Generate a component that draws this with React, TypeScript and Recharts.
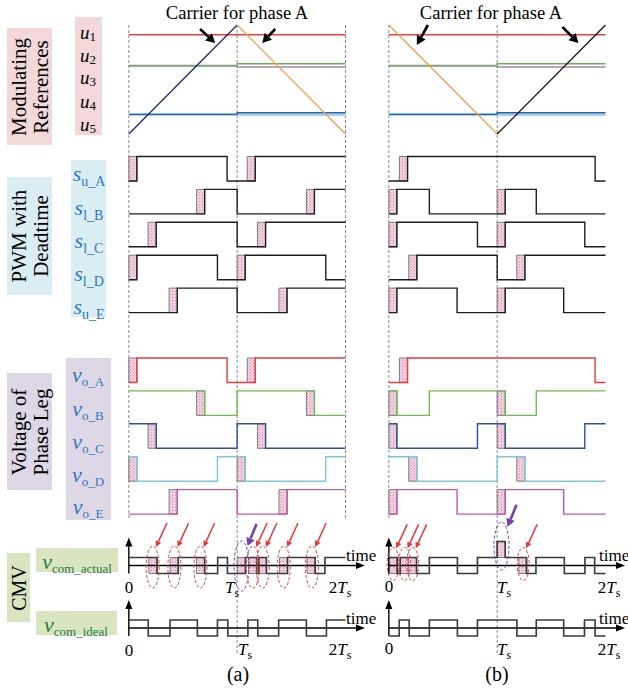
import React from "react";
import { LineChart, Line, XAxis, YAxis, ReferenceArea, ReferenceDot } from "recharts";

const FONT = "'Liberation Serif', 'Times New Roman', Times, serif";

// ---- data, time in units of Ts ----
const DEADTIME = 0.075;

// modulating references in carrier units: [first Ts, second Ts]
const refA = [[0.82, 0.82], [0.245, 0.29], [0.26, 0.23], [-0.64, -0.61], [-0.645, -0.645]];
const refB = [[0.82, 0.82], [0.245, 0.29], [0.26, 0.23], [-0.64, -0.61], [-0.645, -0.645]];

// carrier for phase A: [t, value]
const carrierA = [[0, -1], [1, 1], [2, -1]];
const carrierB = [[0, 1], [1, -1], [2, 1]];

// gate signals s_u_A, s_l_B, s_l_C, s_l_D, s_u_E as [t, level]
const pwmA = [
  [[0, 0], [0.074, 1], [0.907, 0], [1.167, 1], [2, 1]],
  [[0, 0], [0.7, 1], [1.0, 0], [1.713, 1], [2, 1]],
  [[0, 0], [0.253, 1], [1.0, 0], [1.262, 1], [2, 1]],
  [[0, 0], [0.074, 1], [0.818, 0], [1.074, 1], [1.818, 0], [2, 0]],
  [[0, 0], [0.447, 1], [1.0, 0], [1.46, 1], [2, 1]],
];
const pwmB = [
  [[0, 0], [0.173, 1], [1.904, 0], [2, 0]],
  [[0, 0], [0.074, 1], [0.374, 0], [1.074, 1], [1.361, 0], [2, 0]],
  [[0, 0], [0.074, 1], [0.818, 0], [1.074, 1], [1.809, 0], [2, 0]],
  [[0, 0], [0.259, 1], [1.0, 0], [1.256, 1], [2, 1]],
  [[0, 0], [0.074, 1], [0.63, 0], [1.074, 1], [1.614, 0], [2, 0]],
];
// deadtime intervals (start times), same for gate and leg voltage rows
const deadA = [[0, 1.093], [0.626, 1.639], [0.178, 1.188], [0, 1.0], [0.372, 1.386]];
const deadB = [[0.098], [0, 1.0], [0, 1.0], [0.184, 1.181], [0, 1.0]];

// phase leg voltages v_o_A .. v_o_E
const legA = [
  [[0, 0], [0.074, 1], [0.907, 0], [1.167, 1], [2, 1]],
  [[0, 1], [0.7, 0], [1.0, 1], [1.713, 0], [2, 0]],
  [[0, 1], [0.253, 0], [1.0, 1], [1.262, 0], [2, 0]],
  [[0, 1], [0.074, 0], [0.818, 1], [1.074, 0], [1.818, 1], [2, 1]],
  [[0, 0], [0.447, 1], [1.0, 0], [1.46, 1], [2, 1]],
];
const legB = [
  [[0, 0], [0.173, 1], [1.904, 0], [2, 0]],
  [[0, 1], [0.074, 0], [0.374, 1], [1.074, 0], [1.361, 1], [2, 1]],
  [[0, 1], [0.074, 0], [0.818, 1], [1.074, 0], [1.809, 1], [2, 1]],
  [[0, 1], [0.259, 0], [1.0, 1], [1.256, 0], [2, 0]],
  [[0, 0], [0.074, 1], [0.63, 0], [1.074, 1], [1.614, 0], [2, 0]],
];

// common mode voltage, levels -1 / +1 / +3
const cmvActualA = [[0, 1], [0.26, -1], [0.456, 1], [0.7, -1], [0.82, 1], [0.91, -1], [1.077, 1], [1.18, -1], [1.2, 1], [1.27, -1], [1.465, 1], [1.72, -1], [1.81, 1], [2, 1]];
const cmvBoxA = [[0.185, -1, 1], [0.381, -1, 1], [0.625, -1, 1], [1.0, -1, 1], [1.105, -1, 1], [1.195, -1, 1], [1.39, -1, 1], [1.645, -1, 1]];
const cmvIdealA = [[0, 1], [0.179, -1], [0.38, 1], [0.633, -1], [0.818, 1], [0.914, -1], [1.099, 1], [1.19, -1], [1.383, 1], [1.639, -1], [1.824, 1], [2, 1]];
const cmvActualB = [[0, 1], [0.077, -1], [0.105, 1], [0.256, -1], [0.374, 1], [0.633, -1], [0.818, 1], [1.0, 3], [1.074, 1], [1.27, -1], [1.358, 1], [1.62, -1], [1.81, 1], [1.9, -1], [2, -1]];
const cmvBoxB = [[0, -1, 1], [0.105, -1, 1], [0.18, -1, 1], [1.0, 1, 3], [1.2, -1, 1]];
const cmvIdealB = [[0, -1], [0.096, 1], [0.188, -1], [0.374, 1], [0.633, -1], [0.818, 1], [1.182, -1], [1.361, 1], [1.614, -1], [1.806, 1], [1.904, -1], [2, -1]];

// highlighted deadtime events: [t, kind] r = red, p = purple
const ringsA: [number, string][] = [[0.22, "r"], [0.42, "r"], [0.66, "r"], [1.04, "p"], [1.145, "r"], [1.235, "r"], [1.43, "r"], [1.69, "r"]];
const ringsB: [number, string][] = [[0.04, "r"], [0.145, "r"], [0.22, "r"], [1.04, "p"], [1.24, "r"]];

// ---- layout ----
const CW = 260;
const DOM = [-0.1, 2.3];
const L = {
  carMid: 79.5, carAmp: 54.5,
  pwmTop: 156.5, legTop: 358, pitch: 32.9, rowH: 24.5,
  cmvAct: 565.5, cmvIdeal: 628, unit: 8,
};
const refColors = ["#e8413c", "#62b847", "#b47cbc", "#2f62ae", "#9ed3e8"];
const refWidths = [1.4, 1.4, 1.4, 1.4, 2.6];
const legColors = ["#e8383d", "#6cbd4c", "#2f4ea0", "#7cc8dc", "#c158ab"];

const carY = (c: number) => L.carMid - L.carAmp * c;

type Pt = { t: number; y: number };
type Series = { id: string; pts: Pt[]; color: string; width: number; step?: boolean; dash?: string };

function arrow(x: number, y: number, dx: number, dy: number, color: string, w: number, hl: number, hw: number) {
  const len = Math.hypot(dx, dy);
  const ux = dx / len, uy = dy / len;
  const bx = x + ux * hl, by = y + uy * hl;
  const px = -uy, py = ux;
  return (
    <g>
      {len > hl && <line x1={x + dx} y1={y + dy} x2={bx} y2={by} stroke={color} strokeWidth={w} />}
      <polygon points={`${x},${y} ${bx + px * hw},${by + py * hw} ${bx - px * hw},${by - py * hw}`} fill={color} />
    </g>
  );
}

type PanelData = {
  refs: number[][];
  carrier: number[][];
  riseColor: string;
  pwm: number[][][];
  leg: number[][][];
  dead: number[][];
  act: number[][];
  boxes: number[][];
  ideal: number[][];
  rings: [number, string][];
  ringY: { r: number; p: number };
  ringR: { r: number[]; p: number[] };
  guides: number[];
  carArrows: number[][];
};

function Panel({ p, left }: { p: PanelData; left: number }) {
  const lines: Series[] = [];
  const areas: { x1: number; x2: number; y1: number; y2: number }[] = [];
  const marks: { t: number; y: number; draw: (cx: number, cy: number) => React.ReactElement }[] = [];

  p.guides.forEach((g) =>
    lines.push({ id: "g" + g, pts: [{ t: g, y: 25 }, { t: g, y: g === 1 ? 655 : 520 }], color: "#8a8a8a", width: 1, dash: "3 2" })
  );

  [4, 3, 2, 1, 0].forEach((i) => {
    const [a, b] = p.refs[i];
    lines.push({ id: "u" + i, step: true, color: refColors[i], width: refWidths[i], pts: [{ t: 0, y: carY(a) }, { t: 1, y: carY(b) }, { t: 2, y: carY(b) }] });
  });

  for (let i = 0; i < p.carrier.length - 1; i++) {
    const [t0, c0] = p.carrier[i];
    const [t1, c1] = p.carrier[i + 1];
    lines.push({ id: "car" + i, color: c1 > c0 ? p.riseColor : "#f5a04c", width: 1.3, pts: [{ t: t0, y: carY(c0) }, { t: t1, y: carY(c1) }] });
  }

  const rows = (sig: number[][][], top: number, colors: string[] | null, tag: string) =>
    sig.forEach((s, i) => {
      const hi = top + L.pitch * i;
      const lo = hi + L.rowH;
      lines.push({ id: tag + i, step: true, color: colors ? colors[i] : "#1e1e1e", width: 1.4, pts: s.map(([t, l]) => ({ t, y: l ? hi : lo })) });
      p.dead[i].forEach((d) => areas.push({ x1: d, x2: d + DEADTIME, y1: hi, y2: lo }));
    });
  rows(p.pwm, L.pwmTop, null, "s");
  rows(p.leg, L.legTop, legColors, "v");

  [L.cmvAct, L.cmvIdeal].forEach((ax, k) => {
    lines.push({ id: "ax" + k, color: "#000", width: 1.4, pts: [{ t: 0, y: ax }, { t: 2.15, y: ax }] });
    lines.push({ id: "ay" + k, color: "#000", width: 1.4, pts: [{ t: 0, y: ax + 8 }, { t: 0, y: ax - 24 }] });
    marks.push({ t: 2.18, y: ax, draw: (cx, cy) => arrow(cx, cy, -9, 0, "#000", 1, 9, 3.5) });
    marks.push({ t: 0, y: ax - 28, draw: (cx, cy) => arrow(cx, cy, 0, 9, "#000", 1, 9, 3.5) });
  });
  lines.push({ id: "cact", step: true, color: "#3a3a3a", width: 1.6, pts: p.act.map(([t, l]) => ({ t, y: L.cmvAct - L.unit * l })) });
  lines.push({ id: "cid", step: true, color: "#3a3a3a", width: 1.6, pts: p.ideal.map(([t, l]) => ({ t, y: L.cmvIdeal - L.unit * l })) });
  p.boxes.forEach(([t, l0, l1]) => areas.push({ x1: t, x2: t + DEADTIME, y1: L.cmvAct - L.unit * l1, y2: L.cmvAct - L.unit * l0 }));

  p.rings.forEach(([t, kind]) => {
    const col = kind === "p" ? "#7442a8" : "#e8383d";
    const [rx, ry] = kind === "p" ? p.ringR.p : p.ringR.r;
    const cyv = kind === "p" ? p.ringY.p : p.ringY.r;
    marks.push({
      t, y: cyv,
      draw: (cx, cy) => (
        <g>
          <ellipse cx={cx} cy={cy} rx={rx} ry={ry} fill="none" stroke={col} strokeWidth={1} strokeDasharray="3 2" />
          {kind === "p"
            ? arrow(cx + rx * 0.8, cy - ry * 0.8, 9, -22, col, 2.6, 8, 4.5)
            : arrow(cx + rx * 0.5, cy - ry * 0.95, 11, -24, col, 1.5, 6, 3)}
        </g>
      ),
    });
  });

  p.carArrows.forEach(([t, y, dx, dy]) =>
    marks.push({ t, y, draw: (cx, cy) => arrow(cx, cy, dx, dy, "#000", 2.6, 9, 5) })
  );

  return (
    <div style={{ position: "absolute", left, top: 0 }}>
      <LineChart width={CW} height={689} margin={{ top: 0, right: 0, bottom: 0, left: 0 }}>
        <XAxis type="number" dataKey="t" domain={DOM} hide allowDataOverflow />
        <YAxis type="number" domain={[0, 689]} reversed hide allowDataOverflow />
        {lines.map((s) => (
          <Line
            key={s.id}
            data={s.pts}
            dataKey="y"
            type={s.step ? "stepAfter" : "linear"}
            stroke={s.color}
            strokeWidth={s.width}
            strokeDasharray={s.dash}
            dot={false}
            activeDot={false}
            isAnimationActive={false}
          />
        ))}
        {areas.map((a, i) => (
          <ReferenceArea key={"a" + i} x1={a.x1} x2={a.x2} y1={a.y1} y2={a.y2} fill="url(#dtFill)" fillOpacity={1} stroke="#7d7d7d" strokeWidth={1} />
        ))}
        {marks.map((m, i) => (
          <ReferenceDot key={"m" + i} x={m.t} y={m.y} r={1} shape={(pr: any) => m.draw(pr.cx, pr.cy)} />
        ))}
      </LineChart>
    </div>
  );
}

const panelA: PanelData = {
  refs: refA, carrier: carrierA, riseColor: "#1f2c6e", pwm: pwmA, leg: legA, dead: deadA,
  act: cmvActualA, boxes: cmvBoxA, ideal: cmvIdealA, rings: ringsA,
  ringY: { r: 567, p: 566 }, ringR: { r: [6.5, 21], p: [7.5, 25] },
  guides: [0, 1, 2],
  carArrows: [[0.796, 43, -15, -14], [1.231, 43, 13, -14]],
};
const panelB: PanelData = {
  refs: refB, carrier: carrierB, riseColor: "#151515", pwm: pwmB, leg: legB, dead: deadB,
  act: cmvActualB, boxes: cmvBoxB, ideal: cmvIdealB, rings: ringsB,
  ringY: { r: 564, p: 546 }, ringR: { r: [6, 16.5], p: [7.5, 24] },
  guides: [0, 1],
  carArrows: [[0.259, 45, 11, -20], [1.75, 43, -16, -16]],
};

const Txt = ({ x, y, size, color = "#000", left = false, children }: any) => (
  <div
    style={{
      position: "absolute", left: x, top: y,
      transform: left ? "translate(0,-50%)" : "translate(-50%,-50%)",
      fontSize: size, color, lineHeight: 1, whiteSpace: "nowrap", fontFamily: FONT,
    }}
  >
    {children}
  </div>
);

const Sym = ({ main, sub, subSize, drop = "-0.3em" }: { main: string; sub: string; subSize: number; drop?: string }) => (
  <span>
    <i>{main}</i>
    <span style={{ fontSize: subSize, verticalAlign: drop }}>{sub}</span>
  </span>
);

const Ts = () => (
  <span>
    <i>T</i>
    <span style={{ fontSize: 12, verticalAlign: "-0.3em" }}>s</span>
  </span>
);

const Box = ({ x, y, w, h, bg }: any) => (
  <div style={{ position: "absolute", left: x, top: y, width: w, height: h, background: bg }} />
);

const VLabel = ({ x, y, w, h, bg, lines, size }: any) => (
  <div style={{ position: "absolute", left: x, top: y, width: w, height: h, background: bg }}>
    <div
      style={{
        position: "absolute", left: "50%", top: "50%",
        transform: "translate(-50%,-50%) rotate(-90deg)",
        fontSize: size, lineHeight: "22px", textAlign: "center", whiteSpace: "nowrap", fontFamily: FONT,
      }}
    >
      {lines.map((l: string, i: number) => (
        <div key={i}>{l}</div>
      ))}
    </div>
  </div>
);

const PINK = "#f2d8d8";
const BLUE = "#d9edf3";
const LAV = "#ddd7e6";
const GREEN = "#d8e5c0";
const SBLUE = "#2f78be";
const DGREEN = "#237a3a";

const uYs = [33, 56, 78, 102, 125];
const sYs = [176, 210, 243, 276, 309];
const vYs = [376, 410, 443, 476, 508];
const sNames = ["u_A", "l_B", "l_C", "l_D", "u_E"];
const vNames = ["o_A", "o_B", "o_C", "o_D", "o_E"];

export default function App() {
  return (
    <div style={{ position: "absolute", left: 0, top: 0, width: 628, height: 689, overflow: "hidden", background: "#fff", fontFamily: FONT }}>
      <svg width={0} height={0} style={{ position: "absolute" }}>
        <defs>
          <pattern id="dtFill" width={3} height={3} patternUnits="userSpaceOnUse">
            <rect width={3} height={3} fill="#f5d3e3" />
            <rect x={0} y={0} width={1} height={1} fill="#c98aaf" />
            <rect x={1.5} y={1.5} width={1} height={1} fill="#dca6c4" />
          </pattern>
        </defs>
      </svg>

      <VLabel x={7} y={28} w={45} h={117} bg={PINK} lines={["Modulating", "References"]} size={21} />
      <VLabel x={7} y={177} w={45} h={118} bg={BLUE} lines={["PWM with", "Deadtime"]} size={21} />
      <VLabel x={7} y={373} w={45} h={117} bg={LAV} lines={["Voltage  of", "Phase Leg"]} size={21} />
      <VLabel x={7} y={553} w={23} h={69} bg={GREEN} lines={["CMV"]} size={20} />

      <Box x={75} y={17} w={27} h={118} bg={PINK} />
      <Box x={71} y={160} w={35} h={157} bg={BLUE} />
      <Box x={66} y={358} w={45} h={162} bg={LAV} />
      <Box x={36} y={548} w={82} h={24} bg={GREEN} />
      <Box x={36} y={611} w={81} h={24} bg={GREEN} />

      {uYs.map((y, i) => (
        <Txt key={"u" + i} x={88} y={y} size={19}>
          <Sym main="u" sub={String(i + 1)} subSize={13} drop="-0.2em" />
        </Txt>
      ))}
      {sYs.map((y, i) => (
        <Txt key={"s" + i} x={89} y={y} size={22} color={SBLUE}>
          <Sym main="s" sub={sNames[i]} subSize={14} />
        </Txt>
      ))}
      {vYs.map((y, i) => (
        <Txt key={"v" + i} x={88} y={y} size={22} color={SBLUE}>
          <Sym main="v" sub={vNames[i]} subSize={13} />
        </Txt>
      ))}
      <Txt x={77} y={563} size={22} color={DGREEN}>
        <Sym main="v" sub="com_actual" subSize={13} />
      </Txt>
      <Txt x={76} y={626} size={22} color={DGREEN}>
        <Sym main="v" sub="com_ideal" subSize={13} />
      </Txt>

      <Panel p={panelA} left={118.2} />
      <Panel p={panelB} left={378.2} />

      <Txt x={237} y={13} size={18.5}>Carrier for phase A</Txt>
      <Txt x={491} y={13} size={18.5}>Carrier for phase A</Txt>

      <Txt x={129} y={587} size={17}>0</Txt>
      <Txt x={129} y={650} size={17}>0</Txt>
      <Txt x={389} y={586} size={17}>0</Txt>
      <Txt x={389} y={648} size={17}>0</Txt>

      <Txt x={232} y={589} size={17}><Ts /></Txt>
      <Txt x={245} y={651} size={17}><Ts /></Txt>
      <Txt x={504} y={589} size={17}><Ts /></Txt>
      <Txt x={504} y={651} size={17}><Ts /></Txt>

      <Txt x={340} y={589} size={17}>2<Ts /></Txt>
      <Txt x={340} y={651} size={17}>2<Ts /></Txt>
      <Txt x={609} y={589} size={17}>2<Ts /></Txt>
      <Txt x={609} y={651} size={17}>2<Ts /></Txt>

      <Txt x={346} y={555} size={17} left>time</Txt>
      <Txt x={346} y={618} size={17} left>time</Txt>
      <Txt x={599} y={555} size={17} left>time</Txt>
      <Txt x={599} y={618} size={17} left>time</Txt>

      <Txt x={238} y={674} size={20}>(a)</Txt>
      <Txt x={497} y={674} size={20}>(b)</Txt>
    </div>
  );
}
